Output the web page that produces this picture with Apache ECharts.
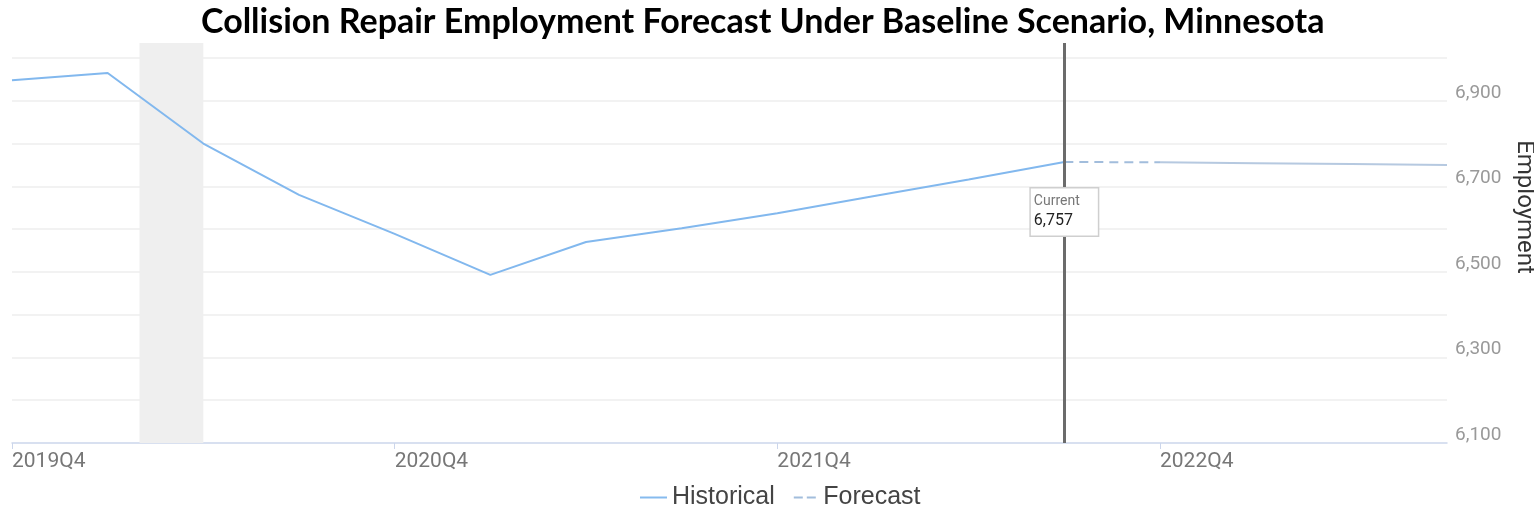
<!DOCTYPE html>
<html>
<head>
<meta charset="utf-8">
<script src="https://cdn.jsdelivr.net/npm/echarts@6/dist/echarts.min.js"></script>
<style>
html,body{margin:0;padding:0;background:#fff;}
#chart{width:1534px;height:520px;}
</style>
</head>
<body>
<div id="chart"></div>
<script>
var categories = ['2019Q4','2020Q1','2020Q2','2020Q3','2020Q4','2021Q1','2021Q2','2021Q3','2021Q4','2022Q1','2022Q2','2022Q3','2022Q4','2023Q1','2023Q2','2023Q3'];
var historicalValues = [6948, 6965, 6800, 6680, 6589, 6493, 6570, 6602, 6637, 6677, 6716, 6757];
var forecastValues = [6757, 6756, 6754, 6752, 6750];
var forecastStartIndex = 11;
var recessionBand = [1.333, 2.0];
var currentIndex = 11;
var currentValue = 6757;
var yTickLabels = [6100, 6300, 6500, 6700, 6900];
var titleText = 'Collision Repair Employment Forecast Under Baseline Scenario, Minnesota';

var histData = historicalValues.map(function (v, i) { return [i, v]; });
var fcData = forecastValues.map(function (v, i) { return [forecastStartIndex + i, v]; });

function fmt(v) { return v.toLocaleString('en-US'); }

var chart = echarts.init(document.getElementById('chart'));
chart.setOption({
  animation: false,
  backgroundColor: '#fff',
  title: {
    text: titleText,
    left: 196,
    top: 0,
    textStyle: { fontFamily: 'Lato', fontWeight: 'bold', fontSize: 34, color: '#000' }
  },
  legend: {
    bottom: 5,
    left: 635,
    itemWidth: 27,
    itemHeight: 2,
    itemGap: 19,
    data: [
      { name: 'Historical', icon: 'rect', itemStyle: { color: '#86bbee' } },
      { name: 'Forecast', icon: 'path://M0,0h9v2h-9z M13,0h9v2h-9z', itemStyle: { color: '#a2bddc' } }
    ],
    textStyle: { fontFamily: 'Liberation Sans', fontSize: 25, color: '#444' }
  },
  grid: { left: 12, right: 87, top: 43, bottom: 77, containLabel: false, outerBoundsMode: 'none' },
  xAxis: {
    type: 'value',
    min: 0,
    max: categories.length - 1,
    interval: 4,
    axisLine: { show: true, lineStyle: { color: '#ccd6eb', width: 1.5 } },
    axisTick: { show: true, length: 6, lineStyle: { color: '#ccd6eb' } },
    splitLine: { show: false },
    axisLabel: {
      showMaxLabel: false,
      align: 'left',
      margin: 8,
      color: '#777',
      fontFamily: 'Roboto',
      fontSize: 21,
      formatter: function (v) { return (v % 4 === 0 && categories[v]) ? categories[v] : ''; }
    }
  },
  yAxis: {
    type: 'value',
    position: 'right',
    min: 6100,
    max: 7035,
    interval: 100,
    name: 'Employment',
    nameLocation: 'middle',
    nameRotate: -90,
    nameGap: 64,
    nameTextStyle: { fontFamily: 'Roboto', fontSize: 24, color: '#333', padding: [0, 72, 0, 0] },
    axisLine: { show: false },
    axisTick: { show: false },
    splitLine: { show: true, showMinLine: false, showMaxLine: false, lineStyle: { color: '#eeeeee', width: 1.5 } },
    axisLabel: {
      showMaxLabel: false,
      margin: 8,
      color: '#999',
      fontFamily: 'Roboto',
      fontSize: 19,
      verticalAlign: 'bottom',
      lineHeight: 16,
      formatter: function (v) { return yTickLabels.indexOf(v) >= 0 ? fmt(v) : ''; }
    }
  },
  series: [
    {
      name: 'Historical',
      type: 'line',
      symbol: 'none',
      z: 3,
      data: histData,
      lineStyle: { color: '#82b8ee', width: 2 },
      itemStyle: { color: '#82b8ee' },
      markArea: {
        silent: true,
        itemStyle: { color: '#efefef' },
        data: [[{ xAxis: recessionBand[0] }, { xAxis: recessionBand[1] }]]
      },
      markPoint: {
        z: 10,
        symbol: 'rect',
        symbolSize: 1,
        itemStyle: { color: 'rgba(0,0,0,0)' },
        data: [{ coord: [currentIndex, currentValue], value: currentValue }],
        label: {
          show: true,
          position: 'bottom',
          distance: 26,
          backgroundColor: '#fff',
          borderColor: '#cfcfcf',
          borderWidth: 1.5,
          padding: [3, 4, 4, 3],
          align: 'center',
          formatter: function (p) { return '{a|Current}\n{b|' + fmt(p.value) + '}'; },
          rich: {
            a: { fontFamily: 'Roboto', fontSize: 14, color: '#777', lineHeight: 20, width: 60, align: 'left' },
            b: { fontFamily: 'Roboto', fontSize: 16, color: '#222', lineHeight: 20, width: 60, align: 'left' }
          }
        }
      }
    },
    {
      name: 'Forecast',
      type: 'line',
      symbol: 'none',
      z: 2,
      data: fcData.slice(0, 2),
      lineStyle: { color: '#a2bddc', width: 2, type: [9, 6] },
      itemStyle: { color: '#a2bddc' },
      markLine: {
        silent: true,
        symbol: 'none',
        label: { show: false },
        lineStyle: { color: '#6b6b6b', width: 3, type: 'solid' },
        data: [{ xAxis: currentIndex }]
      }
    },
    {
      name: 'Forecast (continued)',
      type: 'line',
      symbol: 'none',
      z: 2,
      data: fcData.slice(1),
      lineStyle: { color: '#b6c9e0', width: 2 }
    }
  ]
});
</script>
</body>
</html>
